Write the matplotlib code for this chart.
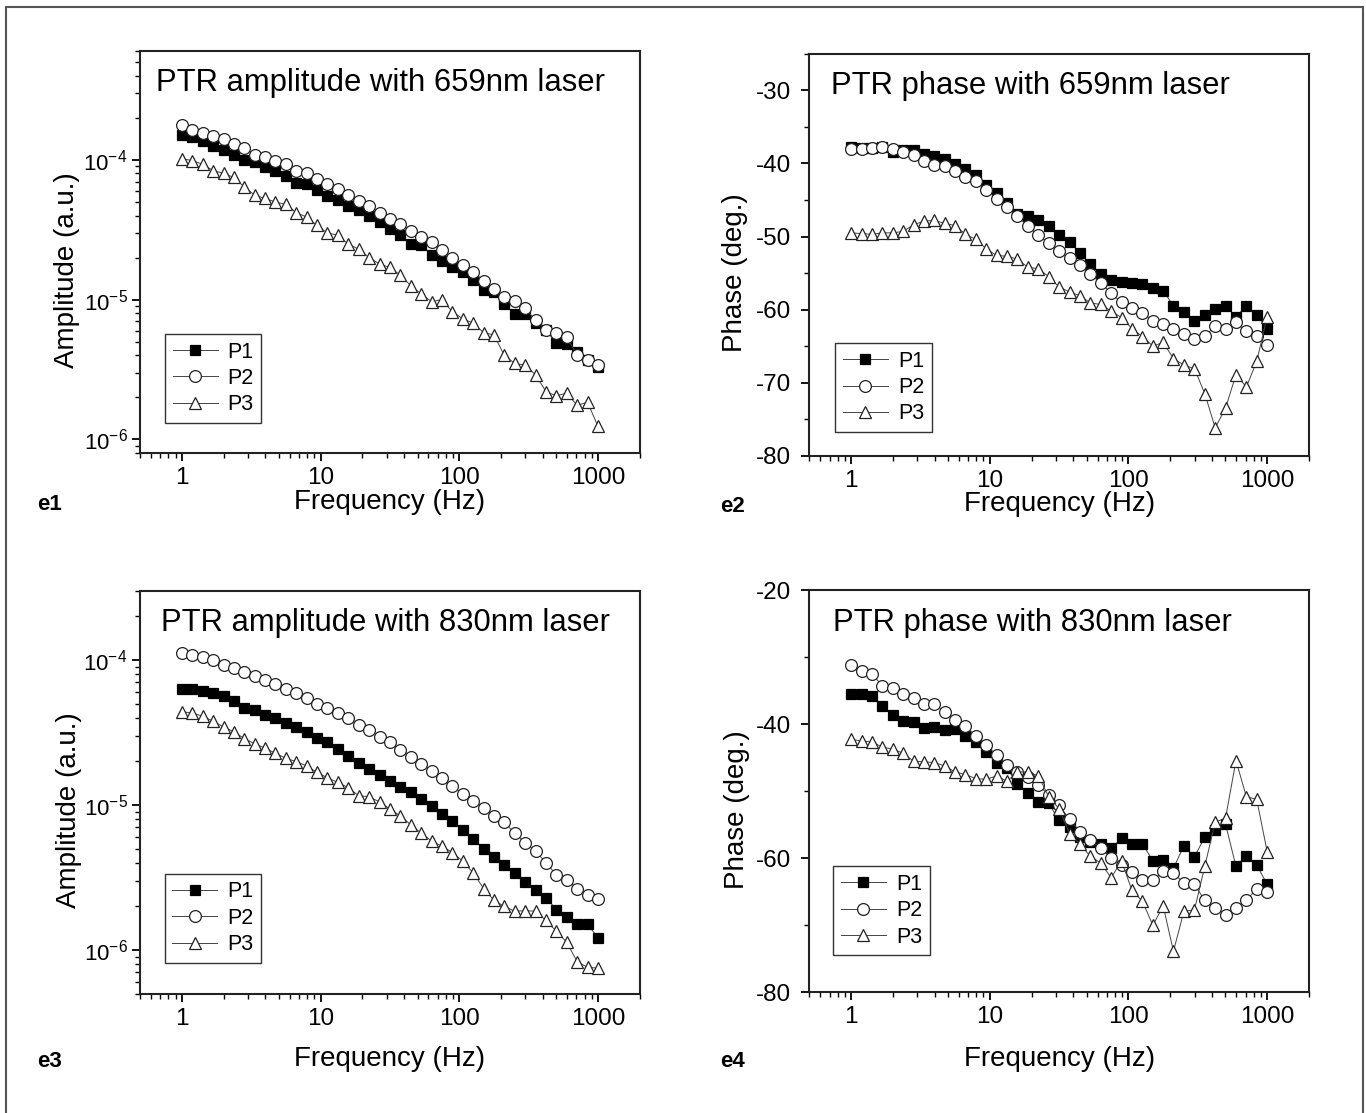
import matplotlib.pyplot as plt
from matplotlib.ticker import MultipleLocator, LogLocator
from matplotlib.patches import Rectangle

plt.rcParams['font.family'] = ['Liberation Sans', 'DejaVu Sans']
plt.rcParams['mathtext.fontset'] = 'custom'
plt.rcParams['mathtext.rm'] = 'Liberation Sans'
plt.rcParams['mathtext.it'] = 'Liberation Sans:italic'
plt.rcParams['axes.unicode_minus'] = False

# modulation frequencies (Hz)
freq = [1.00, 1.19, 1.41, 1.68, 2.00, 2.37, 2.82, 3.35, 3.98, 4.73,
        5.62, 6.68, 7.94, 9.44, 11.2, 13.3, 15.8, 18.8, 22.4, 26.6,
        31.6, 37.6, 44.7, 53.1, 63.1, 75.0, 89.1, 106, 126, 150,
        178, 211, 251, 299, 355, 422, 501, 596, 708, 841, 1000]

# e1: amplitude, 659 nm
amp659_p1 = [1.51e-4, 1.45e-4, 1.37e-4, 1.25e-4, 1.17e-4, 1.09e-4, 1.00e-4, 9.6e-5, 8.9e-5, 8.4e-5,
             7.7e-5, 6.8e-5, 6.7e-5, 6.1e-5, 5.5e-5, 5.2e-5, 4.7e-5, 4.4e-5, 4.0e-5, 3.6e-5,
             3.2e-5, 2.9e-5, 2.5e-5, 2.45e-5, 2.1e-5, 1.9e-5, 1.7e-5, 1.57e-5, 1.39e-5, 1.17e-5,
             1.14e-5, 9.3e-6, 7.9e-6, 7.9e-6, 6.8e-6, 6.1e-6, 4.9e-6, 4.8e-6, 4.2e-6, 3.7e-6, 3.3e-6]
amp659_p2 = [1.79e-4, 1.65e-4, 1.57e-4, 1.48e-4, 1.41e-4, 1.30e-4, 1.21e-4, 1.09e-4, 1.05e-4, 9.9e-5,
             9.4e-5, 8.3e-5, 8.0e-5, 7.3e-5, 6.7e-5, 6.2e-5, 5.6e-5, 5.1e-5, 4.7e-5, 4.2e-5,
             3.8e-5, 3.5e-5, 3.1e-5, 2.8e-5, 2.6e-5, 2.25e-5, 2.0e-5, 1.77e-5, 1.58e-5, 1.37e-5,
             1.2e-5, 1.04e-5, 9.8e-6, 8.7e-6, 7.1e-6, 6.1e-6, 5.8e-6, 5.4e-6, 4.0e-6, 3.7e-6, 3.4e-6]
amp659_p3 = [1.02e-4, 9.9e-5, 9.3e-5, 8.4e-5, 8.0e-5, 7.5e-5, 6.4e-5, 5.6e-5, 5.3e-5, 5.0e-5,
             4.8e-5, 4.2e-5, 3.9e-5, 3.4e-5, 3.0e-5, 2.9e-5, 2.5e-5, 2.3e-5, 2.0e-5, 1.8e-5,
             1.7e-5, 1.5e-5, 1.26e-5, 1.1e-5, 9.7e-6, 1.0e-5, 8.2e-6, 7.3e-6, 6.8e-6, 5.8e-6,
             5.6e-6, 4.0e-6, 3.5e-6, 3.4e-6, 2.9e-6, 2.2e-6, 2.05e-6, 2.15e-6, 1.75e-6, 1.85e-6, 1.24e-6]

# e2: phase, 659 nm
ph659_p1 = [-37.7, -37.9, -37.9, -37.7, -38.4, -38.2, -38.1, -38.7, -39.0, -39.4,
            -40.1, -40.8, -41.6, -43.0, -44.1, -45.4, -46.9, -47.2, -47.7, -48.5,
            -49.8, -50.7, -52.3, -53.8, -55.1, -55.9, -56.2, -56.4, -56.5, -57.0,
            -57.4, -59.5, -60.3, -61.5, -60.8, -59.9, -59.5, -61.0, -59.5, -60.7, -62.6]
ph659_p2 = [-38.0, -38.0, -37.9, -37.7, -38.0, -38.5, -38.9, -39.7, -40.2, -40.4,
            -41.0, -41.9, -42.4, -43.6, -44.8, -46.0, -47.2, -48.6, -49.8, -50.9,
            -52.0, -53.0, -53.9, -55.2, -56.3, -57.8, -59.0, -59.8, -60.5, -61.5,
            -62.0, -62.6, -63.4, -64.0, -63.6, -62.3, -62.7, -61.7, -63.0, -63.6, -64.9]
ph659_p3 = [-49.5, -49.6, -49.7, -49.5, -49.5, -49.3, -48.4, -47.9, -47.8, -48.2,
            -48.5, -49.7, -50.4, -51.7, -52.6, -52.7, -53.1, -54.2, -54.4, -55.5,
            -56.9, -57.6, -58.1, -59.1, -59.3, -60.2, -61.1, -62.6, -63.7, -65.0,
            -64.5, -66.7, -67.6, -68.1, -71.5, -76.2, -73.5, -68.9, -70.6, -67.1, -61.0]

# e3: amplitude, 830 nm
amp830_p1 = [6.35e-5, 6.35e-5, 6.1e-5, 5.95e-5, 5.6e-5, 5.2e-5, 4.7e-5, 4.5e-5, 4.15e-5, 3.97e-5,
             3.7e-5, 3.45e-5, 3.2e-5, 2.92e-5, 2.7e-5, 2.43e-5, 2.17e-5, 1.96e-5, 1.78e-5, 1.62e-5,
             1.47e-5, 1.34e-5, 1.22e-5, 1.1e-5, 9.9e-6, 8.7e-6, 7.7e-6, 6.7e-6, 5.85e-6, 5.0e-6,
             4.4e-6, 3.85e-6, 3.4e-6, 2.95e-6, 2.6e-6, 2.3e-6, 1.9e-6, 1.7e-6, 1.52e-6, 1.5e-6, 1.22e-6]
amp830_p2 = [1.11e-4, 1.09e-4, 1.05e-4, 1.0e-4, 9.3e-5, 8.8e-5, 8.2e-5, 7.7e-5, 7.3e-5, 6.8e-5,
             6.3e-5, 5.9e-5, 5.5e-5, 5.0e-5, 4.7e-5, 4.3e-5, 4.0e-5, 3.55e-5, 3.3e-5, 2.96e-5,
             2.7e-5, 2.4e-5, 2.15e-5, 1.93e-5, 1.72e-5, 1.53e-5, 1.35e-5, 1.2e-5, 1.07e-5, 9.6e-6,
             8.45e-6, 7.6e-6, 6.4e-6, 5.5e-6, 4.8e-6, 4.0e-6, 3.3e-6, 3.05e-6, 2.65e-6, 2.4e-6, 2.25e-6]
amp830_p3 = [4.4e-5, 4.3e-5, 4.1e-5, 3.78e-5, 3.45e-5, 3.2e-5, 2.87e-5, 2.64e-5, 2.47e-5, 2.27e-5,
             2.1e-5, 1.99e-5, 1.86e-5, 1.68e-5, 1.54e-5, 1.43e-5, 1.32e-5, 1.16e-5, 1.14e-5, 1.05e-5,
             9.4e-6, 8.4e-6, 7.3e-6, 6.4e-6, 5.65e-6, 5.2e-6, 4.7e-6, 4.1e-6, 3.4e-6, 2.65e-6,
             2.2e-6, 2.0e-6, 1.85e-6, 1.87e-6, 1.85e-6, 1.6e-6, 1.35e-6, 1.13e-6, 8.3e-7, 7.6e-7, 7.5e-7]

# e4: phase, 830 nm
ph830_p1 = [-35.4, -35.4, -35.8, -37.2, -38.6, -39.5, -39.7, -40.5, -40.4, -40.8,
            -40.7, -41.8, -42.6, -44.1, -45.7, -46.5, -48.9, -50.3, -51.6, -51.8,
            -54.3, -55.3, -56.8, -57.6, -57.9, -58.5, -57.0, -57.8, -57.8, -60.4,
            -60.2, -61.5, -58.1, -59.8, -56.8, -55.7, -54.9, -61.2, -59.6, -61.0, -63.9]
ph830_p2 = [-31.2, -32.1, -32.5, -34.2, -34.6, -35.5, -36.0, -36.9, -37.0, -38.1,
            -39.3, -40.2, -41.8, -43.1, -44.6, -46.0, -47.1, -47.9, -49.1, -50.5,
            -52.1, -54.2, -56.0, -57.3, -58.5, -59.9, -61.0, -62.0, -63.3, -63.3,
            -61.9, -62.2, -63.7, -63.9, -66.3, -67.4, -68.4, -67.4, -66.2, -64.6, -65.0]
ph830_p3 = [-42.2, -42.5, -42.6, -43.4, -43.7, -44.3, -45.5, -45.6, -45.7, -46.2,
            -47.1, -47.5, -48.1, -48.2, -47.7, -48.5, -47.1, -47.1, -47.7, -50.8,
            -52.6, -56.3, -57.9, -59.7, -60.7, -62.9, -60.4, -64.8, -66.4, -70.0,
            -67.1, -73.9, -67.9, -67.7, -61.2, -54.6, -54.0, -45.4, -50.8, -51.2, -59.0]

titles = ['PTR amplitude with 659nm laser', 'PTR phase with 659nm laser',
          'PTR amplitude with 830nm laser', 'PTR phase with 830nm laser']
panel_tags = ['e1', 'e2', 'e3', 'e4']
series_names = ['P1', 'P2', 'P3']

fig = plt.figure(figsize=(13.66, 11.13), dpi=100)

# axes rectangles (figure fractions)
rects = [[0.1026, 0.593, 0.3657, 0.361],
         [0.5925, 0.5906, 0.3657, 0.361],
         [0.1026, 0.1072, 0.3657, 0.362],
         [0.5925, 0.1085, 0.3657, 0.361]]
data = [(amp659_p1, amp659_p2, amp659_p3), (ph659_p1, ph659_p2, ph659_p3),
        (amp830_p1, amp830_p2, amp830_p3), (ph830_p1, ph830_p2, ph830_p3)]
title_x = [0.032, 0.043, 0.042, 0.048]
legend_pos = [(0.05, 0.075), (0.052, 0.059), (0.049, 0.077), (0.048, 0.0925)]
xlabel_y = [-0.089, -0.089, -0.130, -0.133]
ylabel_x = [-0.121, -0.122, -0.117, -0.118]

styles = [dict(marker='s', markersize=7.5, markerfacecolor='black', markeredgecolor='black'),
          dict(marker='o', markersize=8.5, markerfacecolor='white', markeredgecolor='#222222'),
          dict(marker='^', markersize=9, markerfacecolor='white', markeredgecolor='#222222')]

for k in range(4):
    ax = fig.add_axes(rects[k])
    for vals, name, st in zip(data[k], series_names, styles):
        ax.plot(freq, vals, color='#444444', lw=0.7, markeredgewidth=0.9,
                label=name, **st)
    ax.set_xscale('log')
    ax.set_xlim(0.5, 2000)
    if k in (0, 2):
        ax.set_yscale('log')
        ax.set_ylim((8e-7, 6e-4) if k == 0 else (5e-7, 3e-4))
        ax.yaxis.set_major_locator(LogLocator(base=10, numticks=10))
        ax.set_ylabel('Amplitude (a.u.)', fontsize=20)
        ylab_size, ylab_pad = 16, 3
    else:
        if k == 1:
            ax.set_ylim(-80, -25)
            ax.yaxis.set_major_locator(MultipleLocator(10))
            ax.yaxis.set_minor_locator(MultipleLocator(5))
        else:
            ax.set_ylim(-80, -20)
            ax.yaxis.set_major_locator(MultipleLocator(20))
            ax.yaxis.set_minor_locator(MultipleLocator(10))
        ax.set_ylabel('Phase (deg.)', fontsize=20)
        ylab_size, ylab_pad = 17.5, 7
    ax.set_xticks([1, 10, 100, 1000])
    ax.set_xticklabels(['1', '10', '100', '1000'])
    ax.set_xlabel('Frequency (Hz)', fontsize=20)
    ax.xaxis.set_label_coords(0.5, xlabel_y[k])
    ax.yaxis.set_label_coords(ylabel_x[k], 0.455)

    ax.tick_params(which='major', direction='out', length=6, width=1.3)
    ax.tick_params(axis='x', which='major', labelsize=17.5, pad=4)
    ax.tick_params(axis='y', which='major', labelsize=ylab_size, pad=ylab_pad)
    ax.tick_params(which='minor', direction='out', length=3.5, width=1.0)
    for sp in ax.spines.values():
        sp.set_linewidth(1.5)
        sp.set_color('#222222')

    ax.text(title_x[k], 0.90, titles[k], transform=ax.transAxes,
            fontsize=22.3, va='baseline', ha='left')

    leg = ax.legend(loc='lower left', bbox_to_anchor=legend_pos[k], borderaxespad=0,
                    fontsize=15.5, numpoints=1, handlelength=2.1, handletextpad=0.45,
                    labelspacing=0.25, borderpad=0.35, fancybox=False, framealpha=1)
    leg.get_frame().set_edgecolor('#333333')
    leg.get_frame().set_linewidth(1.0)

# panel tags
tag_pos = [(0.027, 0.5418), (0.527, 0.5400), (0.027, 0.0409), (0.527, 0.0409)]
for tag, (tx, ty) in zip(panel_tags, tag_pos):
    fig.text(tx, ty, tag, fontsize=16, fontweight='bold', va='baseline')

# outer frame
fig.add_artist(Rectangle((0.0044, -0.02), 0.9932, 1.014, transform=fig.transFigure,
                         fill=False, edgecolor='#555555', lw=1.5))

fig.savefig('out.png', dpi=100)
